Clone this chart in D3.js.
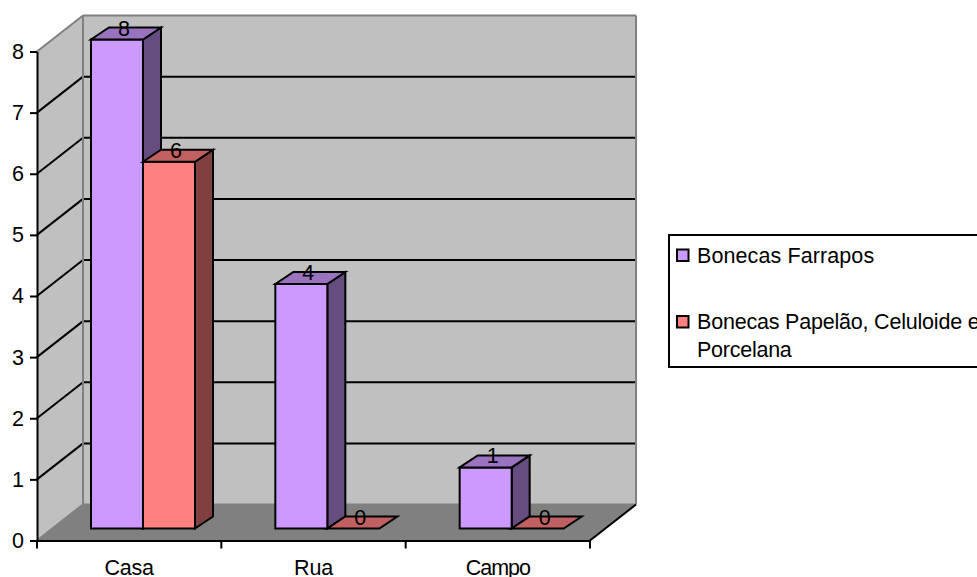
<!DOCTYPE html>
<html>
<head>
<meta charset="utf-8">
<script src="https://cdn.jsdelivr.net/npm/d3@7"></script>
<style>
html,body{margin:0;padding:0;background:#fff;overflow:hidden}
svg{display:block}
text{font-family:"Liberation Sans",Arial,sans-serif;fill:#000;font-kerning:none}
</style>
</head>
<body>
<script>
const categories = ["Casa", "Rua", "Campo"];
const seriesNames = ["Bonecas Farrapos", "Bonecas Papelão, Celuloide e"];
const legendContinuation = [null, "Porcelana"];
const farrapos = [8, 4, 1];
const papelao = [6, 0, 0];
const yTicks = [0, 1, 2, 3, 4, 5, 6, 7, 8];

const palette = [
  {front: "#CC99FF", top: "#9A73C0", side: "#664D80"},
  {front: "#FF8080", top: "#C06060", side: "#804040"}
];

const W = 977, H = 577, FS = 21.5;
const wallDx = 46, wallDy = -36;      // depth of the chart box
const barDx = 18, barDy = -12;        // depth of a bar
const baseDy = -12;                   // bars stand this far back on the floor

const svg = d3.select("body").append("svg").attr("width", W).attr("height", H);

const y = d3.scaleLinear().domain([0, 8]).range([540.5, 51.5]);
const x = d3.scaleBand().domain(categories).range([37, 590]);
const inner = d3.scaleBand().domain(d3.range(2)).range([54, 158]);

const poly = (pts, fill, stroke, sw) => svg.append("polygon")
  .attr("points", pts.map(p => p.join(",")).join(" "))
  .attr("fill", fill).attr("stroke", stroke || "none").attr("stroke-width", sw || 0)
  .attr("stroke-linejoin", "miter");
const line = (x1, y1, x2, y2, stroke, sw) => svg.append("line")
  .attr("x1", x1).attr("y1", y1).attr("x2", x2).attr("y2", y2)
  .attr("stroke", stroke).attr("stroke-width", sw);

const x0 = x.range()[0], x1 = x.range()[1], y0 = y(0), yMax = y(8);

// Walls and floor of the box
poly([[x0 + wallDx, yMax + wallDy], [x1 + wallDx, yMax + wallDy], [x1 + wallDx, y0 + wallDy], [x0 + wallDx, y0 + wallDy]], "#C0C0C0");
poly([[x0, yMax], [x0 + wallDx, yMax + wallDy], [x0 + wallDx, y0 + wallDy], [x0, y0]], "#C0C0C0");
poly([[x0, y0], [x1, y0], [x1 + wallDx, y0 + wallDy], [x0 + wallDx, y0 + wallDy]], "#808080");

// Gridlines run along the side wall and across the back wall
yTicks.filter(t => t > 0 && t < 8).forEach(t => {
  line(x0, y(t), x0 + wallDx, y(t) + wallDy, "#000", 2);
  line(x0 + wallDx, y(t) + wallDy, x1 + wallDx, y(t) + wallDy, "#000", 2);
});

// Box edges
line(x0, yMax, x0 + wallDx, yMax + wallDy, "#808080", 2);
line(x0 + wallDx, yMax + wallDy, x1 + wallDx, yMax + wallDy, "#808080", 2);
line(x1 + wallDx, yMax + wallDy, x1 + wallDx, y0 + wallDy, "#808080", 2);
line(x0 + wallDx, yMax + wallDy, x0 + wallDx, y0 + wallDy, "#808080", 2);
line(x0 + wallDx, y0 + wallDy, x1 + wallDx, y0 + wallDy, "#808080", 2);
line(x0, y0, x0 + wallDx, y0 + wallDy, "#808080", 2);
line(x1, y0, x1 + wallDx, y0 + wallDy, "#000", 2);

// Axes
const yAxis = svg.append("g").attr("transform", `translate(${x0},0)`)
  .call(d3.axisLeft(y).tickValues(yTicks).tickFormat(d3.format("d")).tickSize(7).tickPadding(6).tickSizeOuter(0));
const xAxis = svg.append("g").attr("transform", `translate(0,${y0})`)
  .call(d3.axisBottom(x).tickSize(0).tickSizeOuter(0));
[yAxis, xAxis].forEach(g => {
  g.attr("font-family", null).attr("font-size", null);
  g.select(".domain").attr("stroke", "#000").attr("stroke-width", 2);
  g.selectAll("line").attr("stroke", "#000").attr("stroke-width", 2);
  g.selectAll("text").style("font-size", FS + "px").attr("fill", "#000");
});
xAxis.selectAll("text").attr("y", 34.5).attr("dy", 0)
  .style("letter-spacing", d => d === "Campo" ? "-1px" : "-0.2px");
const edges = [x0, ...categories.map(c => x(c) + x.bandwidth())];
edges.forEach(e => line(e, y0, e, y0 + 8, "#000", 2));

// Bars, left series first so its neighbour overlaps the side face
const series = [farrapos, papelao];
categories.forEach((c, ci) => {
  series.forEach((vals, si) => {
    const v = vals[ci], col = palette[si];
    const left = x(c) + inner(si), right = left + inner.bandwidth();
    const bot = y(0) + baseDy, top = bot - (y(0) - y(v));
    if (v > 0) {
      poly([[right, top], [right + barDx, top + barDy], [right + barDx, bot + barDy], [right, bot]], col.side, "#000", 2);
      poly([[left, top], [right, top], [right, bot], [left, bot]], col.front, "#000", 2);
    }
    poly([[left, top], [left + barDx, top + barDy], [right + barDx, top + barDy], [right, top]], col.top, "#000", 2);
  });
});

// Value labels on the bar tops
categories.forEach((c, ci) => {
  series.forEach((vals, si) => {
    const v = vals[ci];
    svg.append("text")
      .attr("x", x(c) + inner(si) + 33)
      .attr("y", y(0) + baseDy - (y(0) - y(v)) - 4)
      .attr("text-anchor", "middle")
      .style("font-size", FS + "px")
      .text(v);
  });
});

// Legend box, running past the right edge of the page
svg.append("rect").attr("x", 669).attr("y", 235).attr("width", 340).attr("height", 132)
  .attr("fill", "#fff").attr("stroke", "#000").attr("stroke-width", 2);
const legendY = [255.5, 322];
seriesNames.forEach((name, i) => {
  svg.append("rect").attr("x", 677).attr("y", legendY[i] - 6).attr("width", 11.5).attr("height", 11.5)
    .attr("fill", palette[i].front).attr("stroke", "#000").attr("stroke-width", 2);
  svg.append("text").attr("x", 697).attr("y", legendY[i] + 7.2)
    .style("font-size", FS + "px").style("letter-spacing", i ? "-0.2px" : "0.1px").text(name);
  if (legendContinuation[i]) {
    svg.append("text").attr("x", 697).attr("y", legendY[i] + 35.2)
      .style("font-size", FS + "px").style("letter-spacing", "-0.25px").text(legendContinuation[i]);
  }
});
</script>
</body>
</html>
